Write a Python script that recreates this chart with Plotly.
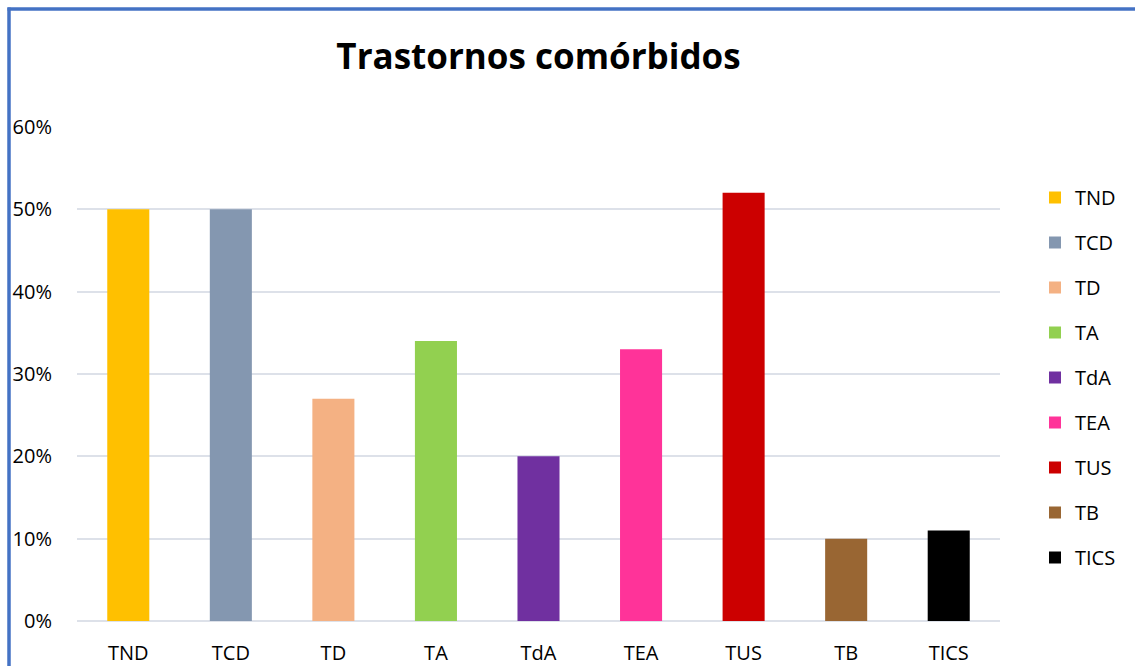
import plotly.graph_objects as go

categories = ["TND", "TCD", "TD", "TA", "TdA", "TEA", "TUS", "TB", "TICS"]
values = [0.50, 0.50, 0.27, 0.34, 0.20, 0.33, 0.52, 0.10, 0.11]
colors = ["#FFC000", "#8497B0", "#F4B183", "#92D050", "#7030A0",
          "#FF3399", "#CC0000", "#996633", "#000000"]
y_ticks = [0, 0.1, 0.2, 0.3, 0.4, 0.5, 0.6]
y_tick_labels = ["0%", "10%", "20%", "30%", "40%", "50%", "60%"]

W, H = 1135, 666
ML, MR, MT, MB = 77, 135, 127, 45
PW, PH = W - ML - MR, H - MT - MB

fig = go.Figure()
for c, v, col in zip(categories, values, colors):
    fig.add_trace(go.Bar(
        x=[c], y=[v], name=c, marker=dict(color=col, line=dict(width=0)),
        width=0.41, legendgroup=c, hoverinfo="x+y",
    ))

def px_x(p):
    return (p - ML) / PW

def px_y(p):
    return (H - MB - p) / PH

border = "#4472C4"
shapes = [
    dict(type="line", xref="paper", yref="paper", x0=px_x(9), x1=px_x(9),
         y0=px_y(7.5), y1=px_y(H + 10), line=dict(color=border, width=3.5)),
    dict(type="line", xref="paper", yref="paper", x0=px_x(7.5), x1=px_x(W + 10),
         y0=px_y(9), y1=px_y(9), line=dict(color=border, width=3.5)),
]

fig.update_layout(
    width=W, height=H,
    margin=dict(l=ML, r=MR, t=MT, b=MB, pad=0, autoexpand=False),
    paper_bgcolor="white", plot_bgcolor="white",
    font=dict(family="Open Sans", size=20, color="#000000"),
    title=dict(text="<b>Trastornos comórbidos</b>", x=0.5, xref="paper",
               xanchor="center", y=1 - 57 / H, yanchor="middle", yref="container",
               font=dict(family="Open Sans", size=35, color="#000000")),
    barmode="overlay",
    showlegend=True,
    legend=dict(x=px_x(1035), y=px_y(178), xanchor="left", yanchor="top",
                font=dict(size=20), tracegroupgap=16, bgcolor="rgba(0,0,0,0)",
                itemclick=False),
    shapes=shapes,
    xaxis=dict(type="category", categoryorder="array", categoryarray=categories,
               range=[-0.5, len(categories) - 0.5], showgrid=False,
               showline=False, ticks="", tickfont=dict(size=20),
               ticklabelstandoff=18, zeroline=False, fixedrange=True,
               automargin=False),
    yaxis=dict(range=[0, 0.6], tickvals=y_ticks, ticktext=y_tick_labels,
               showgrid=True, gridcolor="#DDE1E9", gridwidth=2,
               zeroline=True, zerolinecolor="#DDE1E9", zerolinewidth=2,
               showline=False, ticks="", tickfont=dict(size=20),
               ticklabelstandoff=24, fixedrange=True, automargin=False),
)

fig.write_html(
    "out.html",
    config={"displayModeBar": False},
    post_script="document.body.style.margin='0';document.body.style.overflow='hidden';",
)
